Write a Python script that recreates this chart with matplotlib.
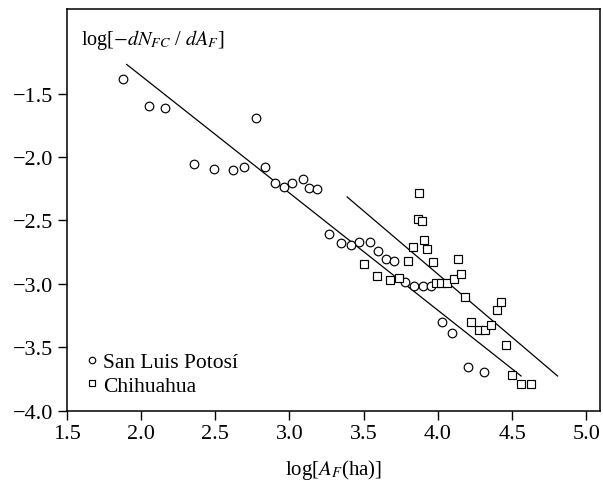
import matplotlib
matplotlib.use("Agg")
import matplotlib.pyplot as plt

plt.rcParams["font.family"] = ["Liberation Serif", "DejaVu Serif"]
plt.rcParams["mathtext.fontset"] = "stix"

# San Luis Potosi (circles)
slp_x = [1.878, 2.054, 2.163, 2.772, 2.358, 2.492, 2.617, 2.694, 2.837, 2.902,
         2.961, 3.018, 3.093, 3.130, 3.184, 3.264, 3.345, 3.412, 3.466, 3.544,
         3.596, 3.648, 3.705, 3.777, 3.837, 3.899, 3.951, 4.028, 4.093, 4.205, 4.308]
slp_y = [-1.382, -1.594, -1.615, -1.691, -2.056, -2.098, -2.103, -2.080, -2.080, -2.208,
         -2.234, -2.208, -2.171, -2.242, -2.255, -2.610, -2.681, -2.696, -2.670, -2.670,
         -2.743, -2.804, -2.819, -2.986, -3.020, -3.013, -3.020, -3.303, -3.391, -3.655, -3.694]

# Chihuahua (squares)
chi_x = [3.505, 3.588, 3.676, 3.741, 3.801, 3.834, 3.876, 3.865, 3.896, 3.907,
         3.927, 3.964, 3.990, 4.023, 4.062, 4.106, 4.137, 4.155, 4.184, 4.223,
         4.275, 4.316, 4.360, 4.396, 4.422, 4.461, 4.500, 4.560, 4.627]
chi_y = [-2.843, -2.937, -2.971, -2.955, -2.819, -2.707, -2.286, -2.490, -2.506, -2.652,
         -2.728, -2.824, -2.994, -2.994, -2.994, -2.960, -2.804, -2.921, -3.104, -3.303,
         -3.360, -3.360, -3.321, -3.203, -3.141, -3.485, -3.721, -3.786, -3.786]

# fitted lines (end points)
fit_slp_x = [1.904, 4.560]
fit_slp_y = [-1.270, -3.726]
fit_chi_x = [3.389, 4.806]
fit_chi_y = [-2.315, -3.726]

fig = plt.figure(figsize=(6.03, 4.81), dpi=100)
ax = fig.add_axes([0.1106, 0.144, 0.884, 0.836])

ax.plot(fit_slp_x, fit_slp_y, color="black", lw=0.9)
ax.plot(fit_chi_x, fit_chi_y, color="black", lw=0.9)
ax.plot(slp_x, slp_y, "o", ms=6.2, mfc="white", mec="black", mew=0.85,
        label="San Luis Potosí")
ax.plot(chi_x, chi_y, "s", ms=6.2, mfc="white", mec="black", mew=0.85,
        label="Chihuahua")

ax.set_xlim(1.5, 5.09)
ax.set_ylim(-4.0, -0.83)
ax.set_xticks([1.5, 2.0, 2.5, 3.0, 3.5, 4.0, 4.5, 5.0])
ax.set_yticks([-4.0, -3.5, -3.0, -2.5, -2.0, -1.5])
ax.set_xticklabels(["1.5", "2.0", "2.5", "3.0", "3.5", "4.0", "4.5", "5.0"])
ax.set_yticklabels(["\u22124.0", "\u22123.5", "\u22123.0", "\u22122.5", "\u22122.0", "\u22121.5"])
ax.tick_params(direction="out", length=6.5, width=1, labelsize=16, pad=3)
for s in ax.spines.values():
    s.set_linewidth(1.1)

ax.text(0.026, 0.955, r"log[$-dN_{FC}$ / $dA_F$]", transform=ax.transAxes,
        fontsize=14.5, va="top", ha="left")
ax.set_xlabel(r"log[$A_F$(ha)]", fontsize=15, labelpad=10)

leg = ax.legend(loc="lower left", bbox_to_anchor=(0.01, 0.0), frameon=False,
                fontsize=15.5, handlelength=0.5, handletextpad=0.25,
                labelspacing=0.15, borderaxespad=0.3, markerscale=0.75)

fig.savefig("out.png", dpi=100)
